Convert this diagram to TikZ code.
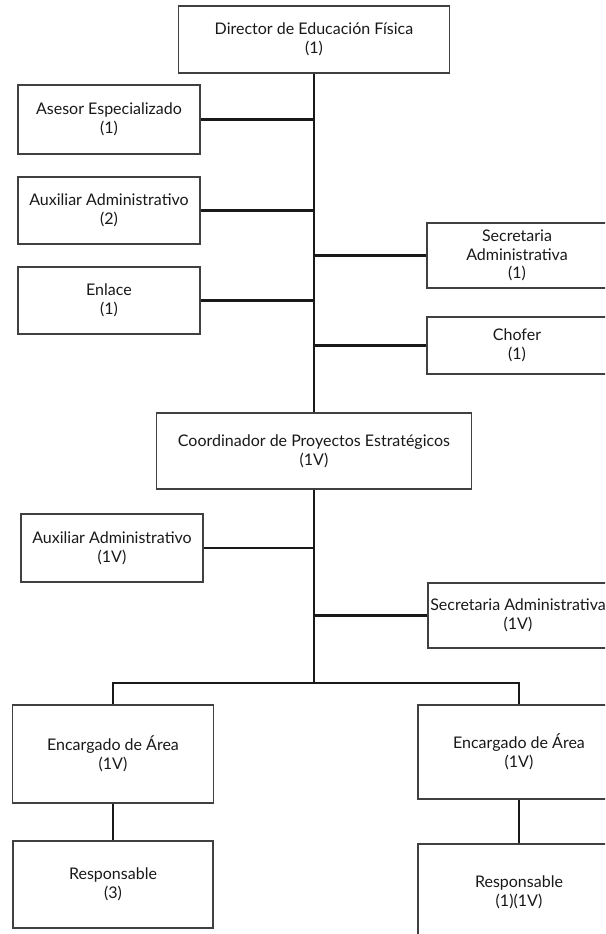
\documentclass[tikz,border=0pt]{standalone}
\usepackage{fontspec}
\setmainfont{Lato}
\begin{document}
\begin{tikzpicture}[x=1pt,y=-1pt,
  orgbox/.style={draw=black!75, line width=1.1pt, rectangle, align=center,
    inner sep=0pt, font=\fontsize{16}{18.8}\selectfont, text=black!90},
  link/.style={draw=black!90, line width=2.2pt}]
  \useasboundingbox (0,0) rectangle (605,934);
  \fill[white] (0,0) rectangle (605,934);
  \clip (0,0) rectangle (605,934);

  % upper level
  \node[orgbox, minimum width=271pt, minimum height=67pt] (dir) at (314,39.5)
    {Director de Educación Física\\(1)};
  \node[orgbox, minimum width=182pt, minimum height=69pt] (ase) at (109,119.5)
    {Asesor Especializado\\(1)};
  \node[orgbox, minimum width=182pt, minimum height=67pt] (aux2) at (109,210.5)
    {Auxiliar Administrativo\\(2)};
  \node[orgbox, minimum width=182pt, minimum height=67pt] (enl) at (109,300.5)
    {Enlace\\(1)};
  \node[orgbox, minimum width=180pt, minimum height=65pt] (sec1) at (517,255.5)
    {Secretaria\\Administrativa\\(1)};
  \node[orgbox, minimum width=180pt, minimum height=57pt] (cho) at (517,345.5)
    {Chofer\\(1)};

  % coordination level
  \node[orgbox, minimum width=315pt, minimum height=76pt] (coord) at (314,451)
    {Coordinador de Proyectos Estratégicos\\(1V)};
  \node[orgbox, minimum width=182pt, minimum height=68pt] (aux1v) at (112,548)
    {Auxiliar Administrativo\\(1V)};
  \node[orgbox, minimum width=180pt, minimum height=65pt] (sec1v) at (518,615.5)
    {Secretaria Administrativa\\(1V)};

  % areas
  \node[orgbox, minimum width=201pt, minimum height=98pt] (encL) at (113,754)
    {Encargado de Área\\(1V)};
  \node[orgbox, minimum width=202pt, minimum height=94pt] (encR) at (519,752)
    {Encargado de Área\\(1V)};
  \node[orgbox, minimum width=200pt, minimum height=87pt] (resL) at (113,884.5)
    {Responsable\\(3)};
  \node[orgbox, minimum width=202pt, minimum height=96pt] (resR) at (519,892)
    {Responsable\\(1)(1V)};

  \coordinate (bus) at (314,683);

  % connectors
  \draw[link] (dir.south) -- (coord.north);
  \draw[link] (ase.east) -- (ase.east -| dir.south);
  \draw[link] (aux2.east) -- (aux2.east -| dir.south);
  \draw[link] (enl.east) -- (enl.east -| dir.south);
  \draw[link] (sec1.west) -- (sec1.west -| dir.south);
  \draw[link] (cho.west) -- (cho.west -| dir.south);
  \draw[link] (coord.south) -- (bus);
  \draw[link] (aux1v.east) -- (aux1v.east -| coord.south);
  \draw[link] (sec1v.west) -- (sec1v.west -| coord.south);
  \draw[link] (encL.north) |- (bus) -| (encR.north);
  \draw[link] (encL.south) -- (resL.north);
  \draw[link] (encR.south) -- (resR.north);
\end{tikzpicture}
\end{document}
